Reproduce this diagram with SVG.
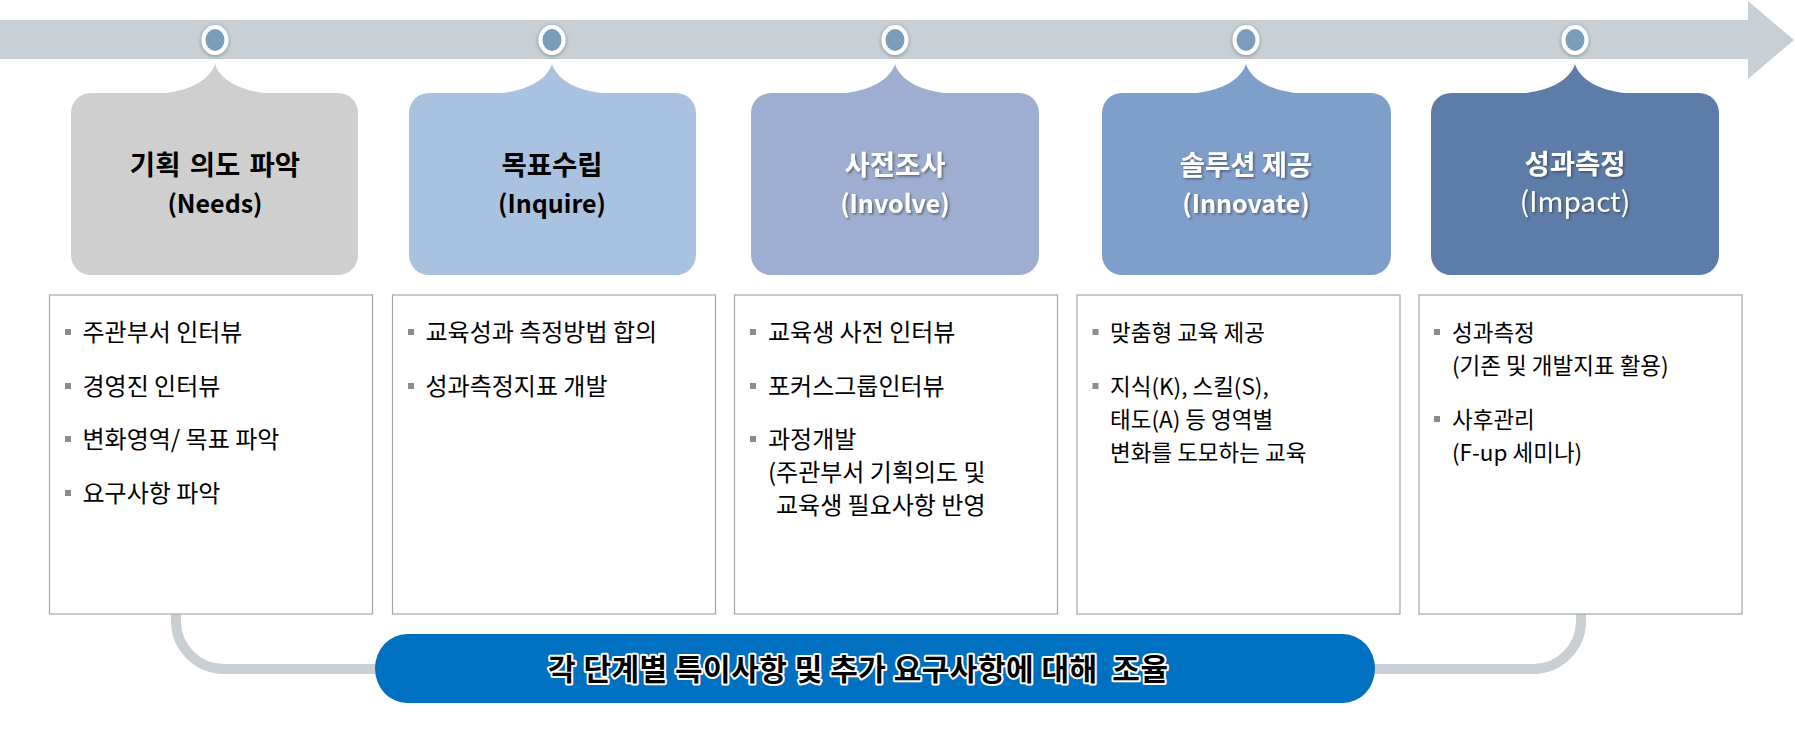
<svg xmlns="http://www.w3.org/2000/svg" width="1795" height="752" viewBox="0 0 1795 752">
<defs>
<style>
.band{fill:#C8D0D5}
.dot{stroke:#FFFFFF;stroke-width:4}
.ttl{font-family:"Noto Sans CJK KR","Malgun Gothic",sans-serif;font-size:27.5px;font-weight:bold;text-anchor:middle}
.sub{font-family:"Noto Sans CJK KR","Malgun Gothic",sans-serif;font-size:25px;font-weight:bold;text-anchor:middle}
.big{font-size:28px;font-weight:normal}
.dark{fill:#000000}
.light{fill:#FFFFFF}
.card{fill:#FFFFFF;stroke:#A6A6A6;stroke-width:1.2}
.txt{font-family:"Noto Sans CJK KR","Malgun Gothic",sans-serif;font-size:24px;fill:#000000}
.sm{font-size:22.5px}
.bul{fill:#8C8C8C}
.conn{fill:none;stroke:#C8D0D4;stroke-width:10}
.pill{fill:#0070C0}
.ptxt{font-family:"Noto Sans CJK KR","Malgun Gothic",sans-serif;font-size:30px;font-weight:bold;letter-spacing:0.5px;fill:#000000;stroke:#FFFFFF;stroke-width:4;stroke-linejoin:round;paint-order:stroke}
</style>
<filter id="tsh" x="-10%" y="-20%" width="130%" height="150%">
<feDropShadow dx="1.5" dy="1.5" stdDeviation="1" flood-color="#333333" flood-opacity="0.6"/>
</filter>
<filter id="dsh" x="-50%" y="-50%" width="200%" height="200%">
<feDropShadow dx="0" dy="1" stdDeviation="2" flood-color="#000000" flood-opacity="0.35"/>
</filter>
</defs>

<g id="timeline">
<polygon class="band" points="0,20 1748,20 1748,1 1794,40 1748,79 1748,59 0,59"/>
</g>

<g id="connectors">
<path class="conn" d="M176,612 V621 A48,48 0 0 0 224,669 H400"/>
<path class="conn" d="M1581,612 V621 A48,48 0 0 1 1533,669 H1350"/>
</g>

<g id="step1">
<ellipse class="dot" cx="215" cy="40" rx="11.5" ry="13" fill="#7A9DBB" filter="url(#dsh)"/>
<path fill="#CFCFCF" d="M91,93 H166 C190,90 210,80 215,64 C220,80 240,90 264,93 H338 A20,20 0 0 1 358,113 V255 A20,20 0 0 1 338,275 H91 A20,20 0 0 1 71,255 V113 A20,20 0 0 1 91,93 Z"/>
<text class="ttl dark" x="215" y="175" word-spacing="3">기획 의도 파악</text>
<text class="sub dark" x="215" y="213">(Needs)</text>
</g>

<g id="step2">
<ellipse class="dot" cx="552" cy="40" rx="11.5" ry="13" fill="#7A9DBB" filter="url(#dsh)"/>
<path fill="#A9C2DF" d="M429,93 H503 C527,90 547,80 552,64 C557,80 577,90 601,93 H676 A20,20 0 0 1 696,113 V255 A20,20 0 0 1 676,275 H429 A20,20 0 0 1 409,255 V113 A20,20 0 0 1 429,93 Z"/>
<text class="ttl dark" x="552" y="175">목표수립</text>
<text class="sub dark" x="552" y="213">(Inquire)</text>
</g>

<g id="step3">
<ellipse class="dot" cx="895" cy="40" rx="11.5" ry="13" fill="#7A9DBB" filter="url(#dsh)"/>
<path fill="#9DAED0" d="M771,93 H846 C870,90 890,80 895,64 C900,80 920,90 944,93 H1019 A20,20 0 0 1 1039,113 V255 A20,20 0 0 1 1019,275 H771 A20,20 0 0 1 751,255 V113 A20,20 0 0 1 771,93 Z"/>
<text class="ttl light" x="895" y="175" filter="url(#tsh)">사전조사</text>
<text class="sub light" x="895" y="213" filter="url(#tsh)">(Involve)</text>
</g>

<g id="step4">
<ellipse class="dot" cx="1246" cy="40" rx="11.5" ry="13" fill="#7A9DBB" filter="url(#dsh)"/>
<path fill="#7F9FCB" d="M1122,93 H1197 C1221,90 1241,80 1246,64 C1251,80 1271,90 1295,93 H1371 A20,20 0 0 1 1391,113 V255 A20,20 0 0 1 1371,275 H1122 A20,20 0 0 1 1102,255 V113 A20,20 0 0 1 1122,93 Z"/>
<text class="ttl light" x="1246" y="175" filter="url(#tsh)">솔루션 제공</text>
<text class="sub light" x="1246" y="213" filter="url(#tsh)">(Innovate)</text>
</g>

<g id="step5">
<ellipse class="dot" cx="1575" cy="40" rx="11.5" ry="13" fill="#7A9DBB" filter="url(#dsh)"/>
<path fill="#5D7DA8" d="M1451,93 H1526 C1550,90 1570,80 1575,64 C1580,80 1600,90 1624,93 H1699 A20,20 0 0 1 1719,113 V255 A20,20 0 0 1 1699,275 H1451 A20,20 0 0 1 1431,255 V113 A20,20 0 0 1 1451,93 Z"/>
<text class="ttl light" x="1575" y="174" filter="url(#tsh)">성과측정</text>
<text class="sub big light" x="1575" y="212" filter="url(#tsh)">(Impact)</text>
</g>

<g id="detail1">
<rect class="card" x="49.5" y="295" width="323" height="319"/>
<rect class="bul" x="65" y="329" width="6" height="6"/>
<text class="txt" x="82.5" y="341">주관부서 인터뷰</text>
<rect class="bul" x="65" y="383" width="6" height="6"/>
<text class="txt" x="82.5" y="395">경영진 인터뷰</text>
<rect class="bul" x="65" y="436" width="6" height="6"/>
<text class="txt" x="82.5" y="448">변화영역/ 목표 파악</text>
<rect class="bul" x="65" y="490" width="6" height="6"/>
<text class="txt" x="82.5" y="502">요구사항 파악</text>
</g>

<g id="detail2">
<rect class="card" x="392.5" y="295" width="323" height="319"/>
<rect class="bul" x="408" y="329" width="6" height="6"/>
<text class="txt" x="425.5" y="341">교육성과 측정방법 합의</text>
<rect class="bul" x="408" y="383" width="6" height="6"/>
<text class="txt" x="425.5" y="395">성과측정지표 개발</text>
</g>

<g id="detail3">
<rect class="card" x="734.5" y="295" width="323" height="319"/>
<rect class="bul" x="750" y="329" width="6" height="6"/>
<text class="txt" x="768" y="341">교육생 사전 인터뷰</text>
<rect class="bul" x="750" y="383" width="6" height="6"/>
<text class="txt" x="768" y="395">포커스그룹인터뷰</text>
<rect class="bul" x="750" y="436" width="6" height="6"/>
<text class="txt" x="768" y="448">과정개발</text>
<text class="txt" x="768" y="481">(주관부서 기획의도 및</text>
<text class="txt" x="776" y="514">교육생 필요사항 반영</text>
</g>

<g id="detail4">
<rect class="card" x="1077" y="295" width="323" height="319"/>
<rect class="bul" x="1092.5" y="329" width="6" height="6"/>
<text class="txt sm" x="1110" y="341">맞춤형 교육 제공</text>
<rect class="bul" x="1092.5" y="383" width="6" height="6"/>
<text class="txt sm" x="1110" y="395">지식(K), 스킬(S),</text>
<text class="txt sm" x="1110" y="428">태도(A) 등 영역별</text>
<text class="txt sm" x="1110" y="461">변화를 도모하는 교육</text>
</g>

<g id="detail5">
<rect class="card" x="1419" y="295" width="323" height="319"/>
<rect class="bul" x="1434" y="329" width="6" height="6"/>
<text class="txt sm" x="1452" y="341">성과측정</text>
<text class="txt sm" x="1452" y="374">(기존 및 개발지표 활용)</text>
<rect class="bul" x="1434" y="416" width="6" height="6"/>
<text class="txt sm" x="1452" y="428">사후관리</text>
<text class="txt sm" x="1452" y="461">(F-up 세미나)</text>
</g>

<g id="coordination">
<rect class="pill" x="375" y="634" width="1000" height="69" rx="32" ry="34.5"/>
<text class="ptxt" x="548" y="680" xml:space="preserve">각 단계별 특이사항 및 추가 요구사항에 대해  조율</text>
</g>
</svg>
